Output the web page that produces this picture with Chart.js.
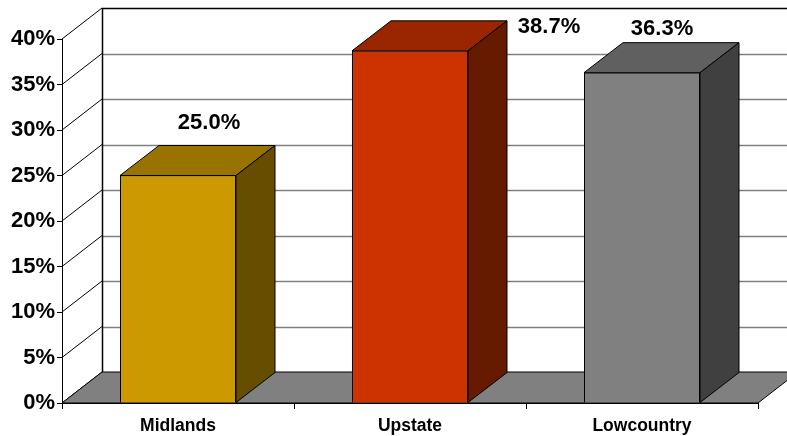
<!DOCTYPE html>
<html>
<head>
<meta charset="utf-8">
<script src="https://cdn.jsdelivr.net/npm/chart.js@4/dist/chart.umd.min.js"></script>
<style>
  html, body { margin: 0; padding: 0; background: #fff; }
  canvas { display: block; }
</style>
</head>
<body>
<canvas id="regionChart" width="787" height="436"></canvas>
<script>
// chart data
const regions = ['Midlands', 'Upstate', 'Lowcountry'];
const shares = [25.0, 38.7, 36.3];
const yTicks = [0, 5, 10, 15, 20, 25, 30, 35, 40];

// colours per bar: front, top, side
const frontColors = ['#CC9900', '#CC3300', '#808080'];
const topColors = ['#997300', '#992600', '#606060'];
const sideColors = ['#664D00', '#661A00', '#404040'];

// where each value label sits relative to the top-front of its bar
const labelShiftX = [31, 139, 20];
const labelShiftY = [-47, -18, -38];

const FONT = '"Liberation Sans", Arial, sans-serif';
const WALL_DX = 40, WALL_DY = -31;   // depth of the plot box
const BAR_DX = 39, BAR_DY = -30;     // depth of each bar

function poly(ctx, pts, fill) {
    ctx.beginPath();
    ctx.moveTo(pts[0][0], pts[0][1]);
    for (let i = 1; i < pts.length; i++) ctx.lineTo(pts[i][0], pts[i][1]);
    ctx.closePath();
    ctx.fillStyle = fill;
    ctx.fill();
    ctx.stroke();
}

const box3d = {
    id: 'box3d',
    beforeDatasetsDraw(chart) {
        const ctx = chart.ctx;
        const { left, right, top, bottom } = chart.chartArea;
        const y = chart.scales.y;
        ctx.save();

        // back wall grid lines
        ctx.strokeStyle = '#808080';
        ctx.lineWidth = 1.5;
        yTicks.forEach(v => {
            if (v === 0 || v === 40) return;
            const py = Math.round(y.getPixelForValue(v) + WALL_DY) + 0.5;
            ctx.beginPath();
            ctx.moveTo(left + WALL_DX, py);
            ctx.lineTo(right + WALL_DX, py);
            ctx.stroke();
        });

        // diagonals on the left side wall
        ctx.strokeStyle = '#000';
        ctx.lineWidth = 1;
        yTicks.forEach(v => {
            const py = y.getPixelForValue(v);
            ctx.beginPath();
            ctx.moveTo(left, py);
            ctx.lineTo(left + WALL_DX, py + WALL_DY);
            ctx.stroke();
        });

        // back wall edges
        const bx = Math.round(left + WALL_DX) + 0.5;
        const ty = Math.round(top + WALL_DY) + 0.5;
        ctx.lineWidth = 1.5;
        ctx.beginPath();
        ctx.moveTo(bx, bottom + WALL_DY);
        ctx.lineTo(bx, ty);
        ctx.lineTo(right + WALL_DX, ty);
        ctx.stroke();

        // floor
        ctx.lineWidth = 1;
        poly(ctx, [
            [left, bottom],
            [left + WALL_DX, bottom + WALL_DY],
            [right + WALL_DX, bottom + WALL_DY],
            [right, bottom]
        ], '#808080');

        ctx.restore();
    },
    afterDatasetsDraw(chart) {
        const ctx = chart.ctx;
        const bars = chart.getDatasetMeta(0).data;
        ctx.save();
        ctx.strokeStyle = '#000';
        ctx.lineWidth = 1;
        bars.forEach((bar, i) => {
            const p = bar.getProps(['x', 'y', 'base', 'width'], true);
            const l = p.x - p.width / 2, r = p.x + p.width / 2;
            // top face
            poly(ctx, [
                [l, p.y],
                [l + BAR_DX, p.y + BAR_DY],
                [r + BAR_DX, p.y + BAR_DY],
                [r, p.y]
            ], topColors[i]);
            // side face
            poly(ctx, [
                [r, p.y],
                [r + BAR_DX, p.y + BAR_DY],
                [r + BAR_DX, p.base + BAR_DY],
                [r, p.base]
            ], sideColors[i]);

            // value label
            ctx.fillStyle = '#000';
            ctx.font = 'bold 22px ' + FONT;
            ctx.textAlign = 'center';
            ctx.textBaseline = 'alphabetic';
            ctx.fillText(shares[i].toFixed(1) + '%', p.x + labelShiftX[i], p.y + labelShiftY[i]);
        });
        ctx.restore();
    }
};

new Chart(document.getElementById('regionChart'), {
    type: 'bar',
    data: {
        labels: regions,
        datasets: [{
            data: shares,
            backgroundColor: frontColors,
            borderColor: '#000',
            borderWidth: 1,
            barPercentage: 0.5,
            categoryPercentage: 1
        }]
    },
    options: {
        responsive: false,
        animation: false,
        layout: { padding: { left: 0, top: 39, right: 29, bottom: 0 } },
        plugins: {
            legend: { display: false },
            tooltip: { enabled: false }
        },
        scales: {
            x: {
                offset: true,
                grid: { offset: true, drawOnChartArea: false, tickLength: 6, color: '#000' },
                border: { color: '#000', width: 1 },
                ticks: {
                    color: '#000',
                    padding: 7,
                    font: { family: FONT, size: 17.5, weight: 'bold' }
                },
                afterFit(scale) { scale.height = 33; }
            },
            y: {
                min: 0,
                max: 40,
                afterBuildTicks(scale) { scale.ticks = yTicks.map(v => ({ value: v })); },
                grid: { drawOnChartArea: false, tickLength: 5, color: '#000' },
                border: { color: '#000', width: 1 },
                ticks: {
                    color: '#000',
                    padding: 2,
                    font: { family: FONT, size: 22, weight: 'bold' },
                    callback: v => v + '%'
                },
                afterFit(scale) { scale.width = 62; }
            }
        }
    },
    plugins: [box3d]
});
</script>
</body>
</html>
